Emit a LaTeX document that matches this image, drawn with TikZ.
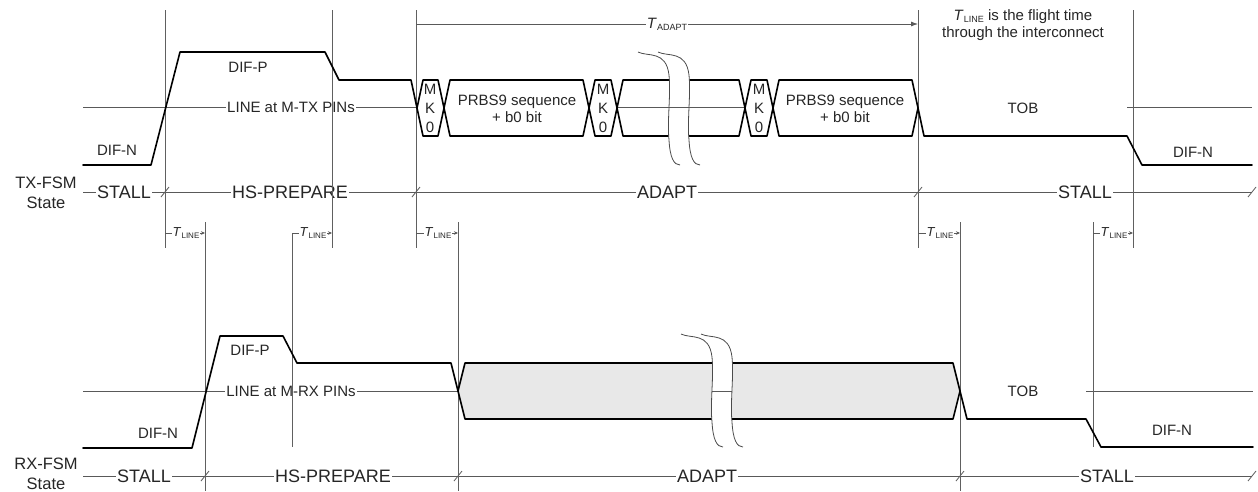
\documentclass[tikz,border=0pt]{standalone}
\usepackage{fontspec}
\setmainfont{Liberation Sans}
\usetikzlibrary{arrows.meta}
\newcommand{\TsS}[1]{\textit{T}\kern0.2pt{\fontsize{8}{8}\selectfont\raisebox{-1.5pt}{#1}}}
\newcommand{\TsL}[1]{\textit{T}\kern0.2pt{\fontsize{9}{9}\selectfont\raisebox{-2pt}{#1}}}
\def\brkA{(0,0) .. controls (10,5) and (28,-2) .. (31,23) .. controls (33,43) and (29,68) .. (31,88) .. controls (32,106) and (36,113) .. (42,113)}
\def\brkB{(20,0) .. controls (30,5) and (48,-2) .. (51,23) .. controls (53,43) and (49,68) .. (51,88) .. controls (52,106) and (56,113) .. (62,113)}
\def\brkR{(0,0) .. controls (10,5) and (28,-2) .. (31,23) .. controls (33,43) and (29,68) .. (31,88) .. controls (32,106) and (36,113) .. (42,113) -- (62,113) .. controls (56,113) and (52,106) .. (51,88) .. controls (49,68) and (53,43) .. (51,23) .. controls (48,-2) and (30,5) .. (20,0) -- cycle}
\begin{document}
\begin{tikzpicture}[x=1pt,y=-1pt,
  wave/.style={line width=1.6pt, black, line join=round, line cap=round},
  thinl/.style={line width=0.8pt, gray!70!black},
  vline/.style={line width=0.9pt, gray!75!black},
  brk/.style={line width=0.8pt, gray!60!black},
  lbl/.style={font=\fontsize{15}{17}\selectfont, text=black!85, inner sep=1pt},
  lblw/.style={lbl, fill=white},
  st/.style={font=\fontsize{18}{20}\selectfont, text=black!85, fill=white, inner sep=1pt},
  fsm/.style={font=\fontsize{16.5}{20}\selectfont, align=center, text=black!85},
  tl/.style={font=\fontsize{13}{13}\selectfont, fill=white, inner sep=0.5pt, text=black!85},
  mk/.style={font=\fontsize{15}{15}\selectfont, text=black!85, inner sep=0pt},
]
\fill[white] (0,0) rectangle (1258,491);
\useasboundingbox (0,0) rectangle (1258,491);

% ---------- centre lines ----------
\draw[thinl] (83,107) -- (417,107);
\node[lblw] (txline) at (291,107) {LINE at M-TX PINs};
\draw[thinl] (617,107) -- (745,107);
\draw[thinl] (1127,107) -- (1252,107);
\draw[thinl] (83,391) -- (458,391);
\node[lblw] (rxline) at (291,391) {LINE at M-RX PINs};
\draw[thinl] (1086,391) -- (1253,391);

% ---------- state lines ----------
\draw[thinl] (83,192) -- (1252,192);
\foreach \x in {165,416,918,1252} \draw[thinl] (\x-4,197) -- (\x+4,187);
\node[st] (txs1) at (124,192) {STALL};
\node[st] (txs2) at (290,192) {HS-PREPARE};
\node[st] (txs3) at (667,192) {ADAPT};
\node[st] (txs4) at (1085,192) {STALL};
\node[fsm] (txfsm) at (46,193) {TX-FSM\\State};

\draw[thinl] (83,476) -- (1252,476);
\foreach \x in {205,458,960,1252} \draw[thinl] (\x-4,481) -- (\x+4,471);
\node[st] (rxs1) at (144,476) {STALL};
\node[st] (rxs2) at (333,476) {HS-PREPARE};
\node[st] (rxs3) at (707,476) {ADAPT};
\node[st] (rxs4) at (1107,476) {STALL};
\node[fsm] (rxfsm) at (46,474) {RX-FSM\\State};

% ---------- vertical reference lines ----------
\foreach \x in {165,332,416,918,1133} \draw[vline] (\x,10) -- (\x,248);
\draw[vline] (205,222) -- (205,491);
\draw[vline] (292,233) -- (292,447);
\draw[vline] (458,222) -- (458,491);
\draw[vline] (960,222) -- (960,491);
\draw[vline] (1093,222) -- (1093,447);

% ---------- T_LINE markers ----------
\foreach \a/\b in {165/205, 292/332, 416/458, 918/960, 1093/1133} {
  \draw[thinl, -{Stealth[length=4pt,width=3.5pt]}] (\a,233) -- (\b,233);
  \node[tl] (tl\a) at ({(\a+\b)/2+1},233) {\TsS{LINE}};
}

% ---------- T_ADAPT ----------
\draw[thinl, -{Latex[length=7pt,width=5pt]}] (416,24) -- (918,24);
\node[lblw] (tadapt) at (667,24) {\TsL{ADAPT}};
\node[lbl, align=center] (note) at (1023,25) {\TsL{LINE} is the flight time\\through the interconnect};

% ---------- TX waveform ----------
\draw[wave] (83,165) -- (151,165) -- (180,52) -- (325,52) -- (339,80) -- (411,80) -- (417,108);
\foreach \a/\b in {417/444, 444/589, 589/617, 617/745, 745/773, 773/918}
  \draw[wave] (\a,108) -- (\a+6,80) -- (\b-6,80) -- (\b,108) -- (\b-6,136) -- (\a+6,136) -- cycle;
\draw[wave] (918,108) -- (924,136) -- (1127,136) -- (1142,165) -- (1252,165);

\foreach \x/\n in {430/1, 603/2, 759/3} {
  \node[mk] (m\n) at (\x,89) {M};
  \node[mk] (k\n) at (\x,108) {K};
  \node[mk] (z\n) at (\x,127) {0};
}
\node[lbl, align=center] (prbs1) at (517,109) {PRBS9 sequence\\+ b0 bit};
\node[lbl, align=center] (prbs2) at (845,109) {PRBS9 sequence\\+ b0 bit};

% top break
\begin{scope}[shift={(638,52)}]
  \fill[white] \brkR;
  \begin{scope}
    \clip \brkR;
    \draw[thinl] (-50,55) -- (120,55);
  \end{scope}
  \draw[brk] \brkA;
  \draw[brk] \brkB;
\end{scope}

\node[lbl] (txdifp) at (248,67) {DIF-P};
\node[lbl] (txdifn) at (117,150) {DIF-N};
\node[lbl] (txtob) at (1023,108) {TOB};
\node[lbl] (txdifn2) at (1193,152) {DIF-N};

% ---------- RX waveform ----------
\draw[wave, fill=gray!18] (458,391) -- (465,363) -- (953,363) -- (960,391) -- (953,419) -- (465,419) -- cycle;
\draw[wave] (83,448) -- (192,448) -- (220,336) -- (283,336) -- (297,363) -- (451,363) -- (458,391);
\draw[wave] (960,391) -- (967,419) -- (1086,419) -- (1101,447) -- (1253,447);

% bottom break
\begin{scope}[shift={(681,334)}]
  \fill[white] \brkR;
  \begin{scope}
    \clip \brkR;
    \draw[thinl] (-50,57) -- (120,57);
  \end{scope}
  \draw[brk] \brkA;
  \draw[brk] \brkB;
\end{scope}

\node[lbl] (rxdifp) at (250,350) {DIF-P};
\node[lbl] (rxdifn) at (158,433) {DIF-N};
\node[lbl] (rxtob) at (1023,391) {TOB};
\node[lbl] (rxdifn2) at (1172,430) {DIF-N};
\end{tikzpicture}
\end{document}
